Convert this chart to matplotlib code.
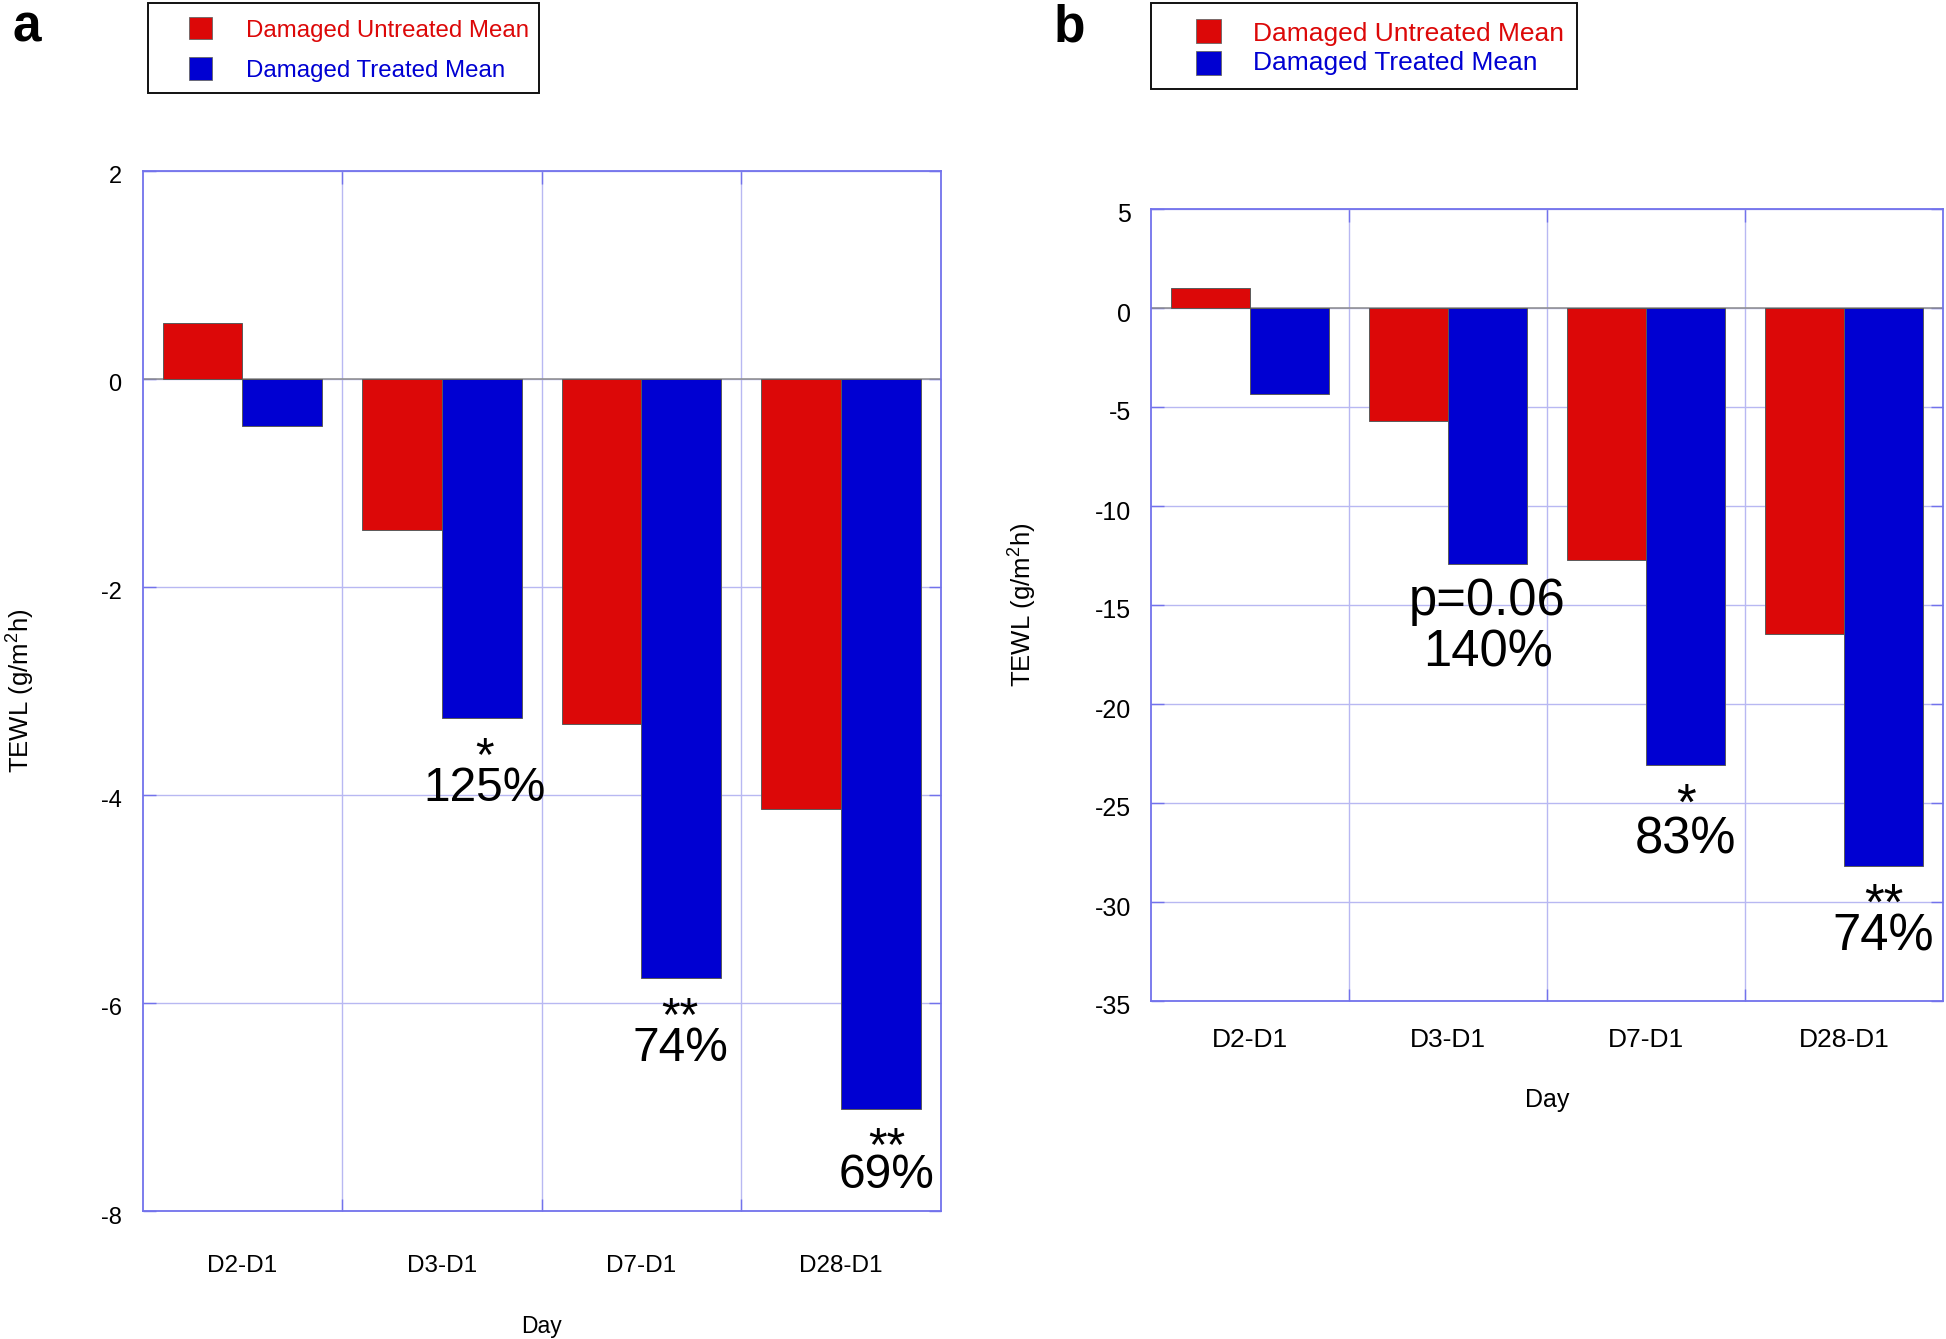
import numpy as np
import matplotlib
matplotlib.use('Agg')
import matplotlib.pyplot as plt
from matplotlib.patches import Rectangle
from matplotlib.transforms import ScaledTranslation

# values (TEWL change vs day 1)
days = ['D2-D1', 'D3-D1', 'D7-D1', 'D28-D1']
untreated_a = [0.54, -1.45, -3.32, -4.14]
treated_a = [-0.45, -3.26, -5.76, -7.02]
untreated_b = [1.03, -5.69, -12.71, -16.45]
treated_b = [-4.34, -12.92, -23.07, -28.20]

# (category, significance, change, gap below bar px, line spacing, dx px)
notes_a = [(1, '*', '125%', 17, 0.6, 3),
           (2, '**', '74%', 17, 0.6, -1),
           (3, '**', '69%', 16, 0.5, 6)]
notes_b = [(1, 'p=0.06', '140%', 13, 1.08, 0),
           (2, '*', '83%', 17, 0.6, 0),
           (3, '**', '74%', 15, 0.54, 0)]

labels = ['Damaged Untreated Mean', 'Damaged Treated Mean']

RED = '#dc0808'
BLUE = '#0000d2'
SPINE = '#7272ec'
GRID = '#b8b8f2'

W, H = 1946, 1339
DPI = 100
PT = 72 / DPI  # points per pixel

plt.rcParams['font.family'] = ['Liberation Sans', 'DejaVu Sans']
plt.rcParams['axes.unicode_minus'] = False
plt.rcParams['mathtext.fontset'] = 'custom'
plt.rcParams['mathtext.rm'] = 'Liberation Sans'
plt.rcParams['mathtext.it'] = 'Liberation Sans:italic'


def fx(px):
    return px / W


def fy(py):
    return 1 - py / H


def draw_panel(fig, box, untreated, treated, ylim, yticks, fs, notes,
               ypad, xpad, xlabel_y, ylabel_x):
    left, top, right, bottom = box
    ax = fig.add_axes([fx(left), fy(bottom), fx(right - left), (bottom - top) / H])
    x = np.arange(len(days))
    ax.bar(x - 0.2, untreated, 0.4, color=RED, edgecolor='#5a5a5a', linewidth=0.7, zorder=3)
    ax.bar(x + 0.2, treated, 0.4, color=BLUE, edgecolor='#5a5a5a', linewidth=0.7, zorder=3)
    ax.axhline(0, color='#8c8c8c', lw=1.1, zorder=1)

    ax.set_xlim(-0.5, len(days) - 0.5)
    ax.set_ylim(*ylim)
    ax.set_yticks(yticks)
    ax.set_xticks(x[:-1] + 0.5)
    ax.set_xticklabels([])
    ax.set_xticks(x, minor=True)
    ax.set_xticklabels(days, minor=True)
    ax.tick_params(axis='x', which='minor', length=0, pad=xpad * PT, labelsize=fs['xt'])
    ax.tick_params(which='major', direction='in', length=9, width=1.0, color=SPINE,
                   top=True, right=True)
    ax.tick_params(axis='y', labelsize=fs['yt'], pad=ypad * PT)
    # y tick labels sit a few pixels below their ticks in the original
    shift = ScaledTranslation(0, -4 / DPI, fig.dpi_scale_trans)
    for lab in ax.get_yticklabels():
        lab.set_transform(lab.get_transform() + shift)
    ax.grid(True, which='major', color=GRID, lw=1.0)
    ax.set_axisbelow(True)
    for s in ax.spines.values():
        s.set_color(SPINE)
        s.set_linewidth(1.3)

    ax.set_xlabel('Day', fontsize=fs['xl'])
    ax.xaxis.set_label_coords(0.5, xlabel_y)
    ax.set_ylabel(r'TEWL (g/m$^2$h)', fontsize=fs['yl'])
    ax.yaxis.set_label_coords(ylabel_x, 0.5)

    for cat, sig, change, gap, spacing, dx in notes:
        ax.annotate(sig + '\n' + change, xy=(cat + 0.2, treated[cat]),
                    xytext=(dx * PT, -gap * PT), textcoords='offset points',
                    ha='center', va='top', multialignment='center',
                    linespacing=spacing, fontsize=fs['note'])
    return ax


def draw_key(fig, frame, sq_x, sq_rows, text_x, baselines, size):
    x0, y0, x1, y1 = frame
    fig.patches.append(Rectangle((fx(x0), fy(y1)), fx(x1 - x0), (y1 - y0) / H,
                                 transform=fig.transFigure, fill=False,
                                 edgecolor='#111111', lw=1.4))
    for (r0, r1), col, lab, base in zip(sq_rows, [RED, BLUE], labels, baselines):
        fig.patches.append(Rectangle((fx(sq_x[0]), fy(r1)), fx(sq_x[1] - sq_x[0]), (r1 - r0) / H,
                                     transform=fig.transFigure, facecolor=col,
                                     edgecolor='#666666', lw=0.6))
        fig.text(fx(text_x), fy(base), lab, color=col, fontsize=size, va='baseline')


fig = plt.figure(figsize=(W / DPI, H / DPI), dpi=DPI)

draw_panel(fig, (142.7, 170.7, 940.7, 1211), untreated_a, treated_a, (-8, 2),
           list(range(-8, 3, 2)),
           {'xt': 17.5, 'yt': 17, 'xl': 16.5, 'yl': 18.5, 'note': 34.5}, notes_a,
           ypad=21, xpad=44, xlabel_y=-0.1, ylabel_x=-0.133)
draw_panel(fig, (1151, 209, 1943, 1001), untreated_b, treated_b, (-35, 5),
           list(range(-35, 6, 5)),
           {'xt': 19, 'yt': 18, 'xl': 18, 'yl': 18.5, 'note': 36.5}, notes_b,
           ypad=20, xpad=27, xlabel_y=-0.11, ylabel_x=-0.142)

draw_key(fig, (148, 2.7, 539, 93.3), (189, 212), [(17.3, 39.3), (57.3, 80)],
         246, [37.3, 76.7], 17.3)
draw_key(fig, (1151, 3.3, 1577, 89.3), (1196, 1221), [(19.3, 43.3), (50.7, 75)],
         1253, [40.7, 70], 19)

fig.text(fx(12), fy(41.7), 'a', fontsize=37, fontweight='bold', va='baseline')
fig.text(fx(1054), fy(41.7), 'b', fontsize=37, fontweight='bold', va='baseline')

fig.savefig('out.png', dpi=DPI)
